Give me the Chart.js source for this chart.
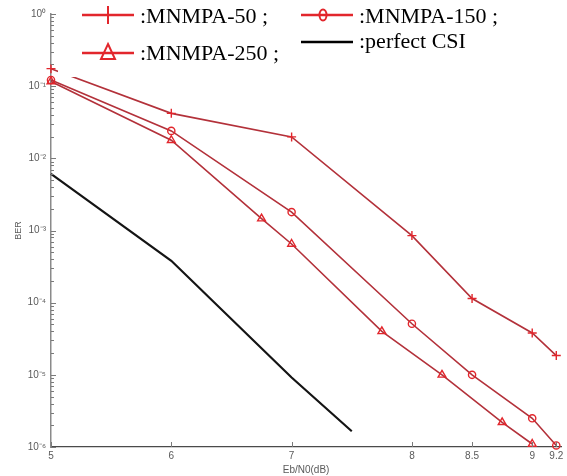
<!DOCTYPE html>
<html>
<head>
<meta charset="utf-8">
<title>BER vs Eb/N0</title>
<script src="https://cdn.jsdelivr.net/npm/chart.js@4.4.1/dist/chart.umd.min.js"></script>
<style>
  html, body { margin: 0; padding: 0; background: #fff; }
  #wrap { width: 567px; height: 476px; }
</style>
</head>
<body>
<div id="wrap"><canvas id="berChart" width="567" height="476"></canvas></div>
<script>
// ----- curves (Eb/N0 in dB, BER) -----
const snrMain = [5, 6, 7, 8, 8.5, 9, 9.2];
const berMnmpa50 = [0.175, 0.042, 0.0198, 8.5e-4, 1.14e-4, 3.8e-5, 1.85e-5];
const berMnmpa150 = [0.122, 0.024, 1.8e-3, 5.1e-5, 1.0e-5, 2.5e-6, 1.05e-6];

const snrMnmpa250 = [5, 6, 6.75, 7, 7.75, 8.25, 8.75, 9];
const berMnmpa250 = [0.116, 0.0178, 1.46e-3, 6.5e-4, 4.0e-5, 1.0e-5, 2.2e-6, 1.1e-6];

const snrPerfect = [5, 6, 7, 7.5];
const berPerfect = [6.1e-3, 3.8e-4, 9.2e-6, 1.65e-6];

// ----- axes -----
const xTickValues = [5, 6, 7, 8, 8.5, 9, 9.2];
const yDecades = [0, -1, -2, -3, -4, -5, -6];
const yTickLabels = ['10⁰', '10⁻¹', '10⁻²', '10⁻³', '10⁻⁴', '10⁻⁵', '10⁻⁶'];

const seriesNames = ['MNMPA-50', 'MNMPA-150', 'MNMPA-250', 'perfect CSI'];

const toPoints = (xs, ys) => xs.map((x, i) => ({ x: x, y: ys[i] }));

const RED_LINE = '#b3313a';
const RED_MARK = '#e2262c';
const TICK_GRAY = '#5a5a5a';

// matlab-style axis ticks point into the plot
const inwardTicks = {
  id: 'inwardTicks',
  afterDraw(chart) {
    const { ctx, chartArea, scales } = chart;
    ctx.save();
    ctx.strokeStyle = '#7a7a7a';
    ctx.lineWidth = 1;
    scales.y.ticks.forEach(t => {
      const py = Math.round(scales.y.getPixelForValue(t.value)) + 0.5;
      const len = t.label ? 5 : 3;
      ctx.beginPath();
      ctx.moveTo(chartArea.left, py);
      ctx.lineTo(chartArea.left + len, py);
      ctx.stroke();
    });
    scales.x.ticks.forEach(t => {
      const px = Math.round(scales.x.getPixelForValue(t.value)) + 0.5;
      ctx.beginPath();
      ctx.moveTo(px, chartArea.bottom);
      ctx.lineTo(px, chartArea.bottom - 5);
      ctx.stroke();
    });
    ctx.restore();
  }
};

// two-column legend sitting on a white box in the upper part of the plot
const boxLegend = {
  id: 'boxLegend',
  afterDraw(chart) {
    const ctx = chart.ctx;
    ctx.save();
    ctx.fillStyle = '#fff';
    ctx.fillRect(58, 0, 470, 77);

    const entries = [
      { name: ':' + seriesNames[0] + ' ;', x: 82, y: 15, base: 23, mark: 'plus', color: RED_MARK },
      { name: ':' + seriesNames[1] + ' ;', x: 301, y: 15, base: 23, mark: 'ellipse', color: RED_MARK },
      { name: ':' + seriesNames[2] + ' ;', x: 82, y: 53, base: 60, mark: 'triangle', color: RED_MARK },
      { name: ':' + seriesNames[3], x: 301, y: 42, base: 48, mark: 'none', color: '#000' }
    ];

    entries.forEach(e => {
      const cx = e.x + 26;
      ctx.strokeStyle = e.color;
      ctx.lineWidth = 2.5;
      ctx.beginPath();
      ctx.moveTo(e.x, e.y);
      ctx.lineTo(e.x + 52, e.y);
      ctx.stroke();

      ctx.lineWidth = 2;
      ctx.beginPath();
      if (e.mark === 'plus') {
        ctx.moveTo(cx, e.y - 9);
        ctx.lineTo(cx, e.y + 9);
      } else if (e.mark === 'ellipse') {
        ctx.ellipse(cx - 4, e.y, 3.5, 5.5, 0, 0, Math.PI * 2);
      } else if (e.mark === 'triangle') {
        ctx.moveTo(cx, e.y - 9);
        ctx.lineTo(cx + 7, e.y + 6);
        ctx.lineTo(cx - 7, e.y + 6);
        ctx.closePath();
      }
      ctx.stroke();

      ctx.fillStyle = '#000';
      ctx.font = '22px "Liberation Serif", "Times New Roman", serif';
      ctx.textBaseline = 'alphabetic';
      ctx.fillText(e.name, e.x + 58, e.base);
    });
    ctx.restore();
  }
};

const ctx = document.getElementById('berChart').getContext('2d');
new Chart(ctx, {
  type: 'line',
  data: {
    datasets: [
      {
        label: seriesNames[0],
        data: toPoints(snrMain, berMnmpa50),
        borderColor: RED_LINE,
        borderWidth: 1.6,
        pointStyle: 'cross',
        pointRadius: 4.5,
        pointBorderColor: RED_MARK,
        pointBorderWidth: 1.4,
        pointBackgroundColor: 'rgba(0,0,0,0)',
        clip: false
      },
      {
        label: seriesNames[1],
        data: toPoints(snrMain, berMnmpa150),
        borderColor: RED_LINE,
        borderWidth: 1.6,
        pointStyle: 'circle',
        pointRadius: 3.6,
        pointBorderColor: RED_MARK,
        pointBorderWidth: 1.4,
        pointBackgroundColor: 'rgba(0,0,0,0)',
        clip: false
      },
      {
        label: seriesNames[2],
        data: toPoints(snrMnmpa250, berMnmpa250),
        borderColor: RED_LINE,
        borderWidth: 1.6,
        pointStyle: 'triangle',
        pointRadius: 4.5,
        pointBorderColor: RED_MARK,
        pointBorderWidth: 1.4,
        pointBackgroundColor: 'rgba(0,0,0,0)',
        clip: false
      },
      {
        label: seriesNames[3],
        data: toPoints(snrPerfect, berPerfect),
        borderColor: '#141414',
        borderWidth: 2.2,
        pointRadius: 0,
        clip: false
      }
    ]
  },
  options: {
    responsive: false,
    animation: false,
    devicePixelRatio: 1,
    layout: { padding: { top: 14, right: 2, left: 0, bottom: 0 } },
    elements: { line: { tension: 0 } },
    plugins: {
      legend: { display: false },
      tooltip: { enabled: false }
    },
    scales: {
      x: {
        type: 'linear',
        min: 5,
        max: 9.24,
        afterBuildTicks: scale => {
          scale.ticks = xTickValues.map(v => ({ value: v }));
        },
        afterFit: scale => {
          scale.height = 29;
          // let the axis run right to the edge instead of reserving room for the end label
          scale.paddingLeft = 0;
          scale.paddingRight = 0;
        },
        grid: { display: false, drawTicks: false },
        border: { display: true, color: '#4a4a4a', width: 1.3 },
        ticks: {
          autoSkip: false,
          maxRotation: 0,
          padding: 3,
          color: TICK_GRAY,
          font: { family: '"Liberation Sans", Arial, sans-serif', size: 10 },
          callback: v => String(v)
        },
        title: {
          display: true,
          text: 'Eb/N0(dB)',
          color: TICK_GRAY,
          padding: 0,
          font: { family: '"Liberation Sans", Arial, sans-serif', size: 10 }
        }
      },
      y: {
        type: 'logarithmic',
        min: 1e-6,
        max: 1,
        afterBuildTicks: scale => {
          const ticks = [];
          yDecades.forEach(e => {
            if (e === 0) { ticks.push({ value: 1 }); return; }
            for (let m = 1; m <= 9; m++) ticks.push({ value: m * Math.pow(10, e) });
          });
          scale.ticks = ticks;
        },
        afterFit: scale => {
          scale.width = 51;
          scale.paddingTop = 0;
          scale.paddingBottom = 0;
        },
        grid: { display: false, drawTicks: false },
        border: { display: true, color: '#8a8a8a', width: 1.5 },
        ticks: {
          autoSkip: false,
          padding: 5,
          color: TICK_GRAY,
          font: { family: '"Liberation Sans", Arial, sans-serif', size: 10 },
          callback: value => {
            const lg = Math.log10(value);
            const e = Math.round(lg);
            if (Math.abs(lg - e) > 1e-6) return '';
            return yTickLabels[yDecades.indexOf(e)];
          }
        },
        title: {
          display: true,
          text: 'BER',
          color: TICK_GRAY,
          padding: { top: 13, bottom: 0 },
          font: { family: '"Liberation Sans", Arial, sans-serif', size: 9 }
        }
      }
    }
  },
  plugins: [inwardTicks, boxLegend]
});
</script>
</body>
</html>
